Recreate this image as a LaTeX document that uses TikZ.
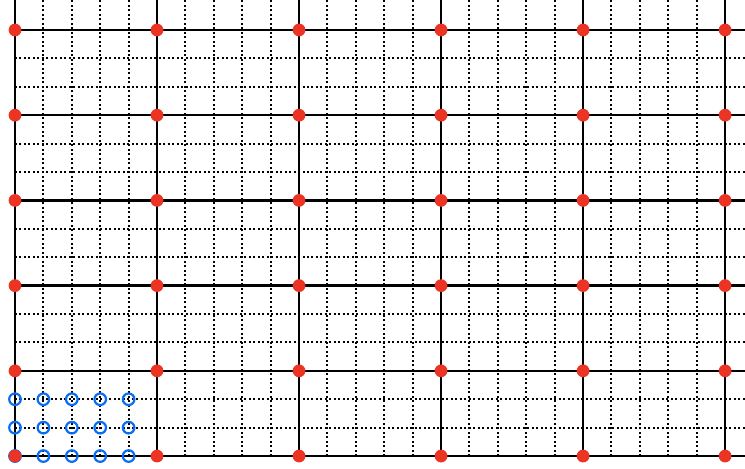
\documentclass[tikz,border=0pt]{standalone}
\usepackage{tikz}
\definecolor{GrdRed}{RGB}{236,52,36}
\definecolor{GrdBlue}{RGB}{10,110,245}
\tikzset{
  grd/major/.style={line width=1.2pt, draw=black},
  grd/minor/.style={line width=1pt, draw=black, dash pattern=on 1pt off 1.25pt},
  grd/dot/.style={circle, fill=GrdRed, inner sep=0pt, minimum size=6.4pt},
  grd/ring/.style={circle, draw=GrdBlue, line width=1.1pt, inner sep=0pt, minimum size=5.8pt}
}
\begin{document}
\begin{tikzpicture}[x=0.5cm,y=0.5cm]
  \useasboundingbox (-0.528,-0.4225) rectangle (25.70,16.056);
  % fine grid
  \foreach \i in {1,...,24} {
    \pgfmathtruncatemacro{\r}{mod(\i,5)}
    \ifnum\r>0 \draw[grd/minor] (\i,0) -- (\i,16.056); \fi
  }
  \foreach \j in {1,...,14} {
    \pgfmathtruncatemacro{\r}{mod(\j,3)}
    \ifnum\r>0 \draw[grd/minor] (0,\j) -- (25.70,\j); \fi
  }
  % coarse grid
  \foreach \i in {0,5,...,25}
    \draw[grd/major] (\i,0) -- (\i,16.056);
  \foreach \j in {0,3,...,15}
    \draw[grd/major] (0,\j) -- (25.70,\j);
  % samples in the first cell
  \foreach \i in {0,...,4}
    \foreach \j in {0,1,2}
      \node[grd/ring] (s-\i-\j) at (\i,\j) {};
  % coarse points
  \foreach \i in {0,...,5}
    \foreach \j in {0,...,5}
      \node[grd/dot] (p-\i-\j) at (5*\i,3*\j) {};
\end{tikzpicture}
\end{document}
